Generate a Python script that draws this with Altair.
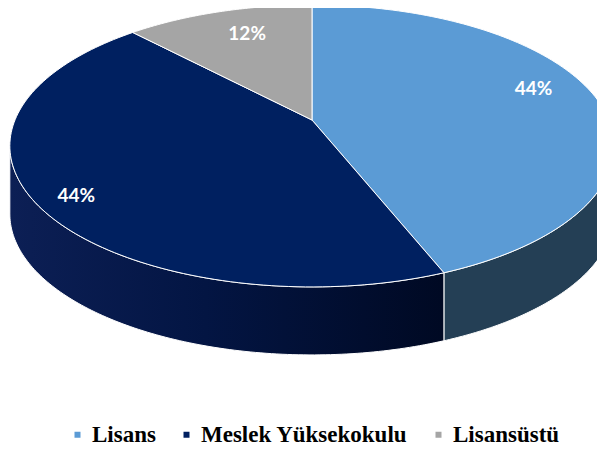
import math
import numpy as np
import pandas as pd
import altair as alt

# ---- data ----
categories = ["Lisans", "Meslek Yüksekokulu", "Lisansüstü"]
values = [44, 44, 12]
labels = ["44%", "44%", "12%"]

# ---- style ----
top_colors = ["#5B9BD5", "#002060", "#A5A5A5"]
side_colors = ["#243F55", "#0A1A48", "#6E6E6E"]
label_r = [0.78, 0.86, 0.66]
label_dy = [-12, 7, -11]

# 3D pie geometry (page pixel space)
CX, CY = 312.0, 120.0
A, B = 297.0, 136.2
P = 0.184
H = 68.0
W, HT = 589, 440


def proj(t, f=1.0):
    s, c = math.sin(t), math.cos(t)
    den = 1 + P * f * c
    return CX + f * A * s / den, CY - f * B * c / den


total = float(sum(values))
rows = []
lab_rows = []
start = 0.0
t_left = math.acos(-P)
t_right = 2 * math.pi - t_left
for k, (cat, v) in enumerate(zip(categories, values)):
    t0 = start
    t1 = start + 2 * math.pi * v / total
    start = t1
    # top face
    i = 0
    x, y = proj(0, 0)
    rows.append(dict(cat=cat, kind="top", i=i, x=x, y=y))
    for t in np.linspace(t0, t1, 120):
        i += 1
        x, y = proj(t)
        rows.append(dict(cat=cat, kind="top", i=i, x=x, y=y))
    # side face (front visible part)
    a0, a1 = max(t0, t_left), min(t1, t_right)
    if a1 > a0:
        ts = np.linspace(a0, a1, 120)
        j = 0
        for t in ts:
            x, y = proj(t)
            rows.append(dict(cat=cat, kind="side", i=j, x=x, y=y))
            j += 1
        for t in ts[::-1]:
            x, y = proj(t)
            rows.append(dict(cat=cat, kind="side", i=j, x=x, y=y + H))
            j += 1
    tm = (t0 + t1) / 2
    lx, ly = proj(tm, label_r[k])
    lab_rows.append(dict(cat=cat, label=labels[k], x=lx, y=ly + label_dy[k]))

df = pd.DataFrame(rows)
lab = pd.DataFrame(lab_rows)

xs = alt.Scale(domain=[8, 8 + W])
ys = alt.Scale(domain=[8, 8 + HT], reverse=True)
X = alt.X("x:Q", scale=xs, axis=None)
Y = alt.Y("y:Q", scale=ys, axis=None)

base = alt.Chart(df)

side_lisans = base.transform_filter(
    (alt.datum.kind == "side") & (alt.datum.cat == categories[0])
).mark_line(
    interpolate="linear-closed", fill=side_colors[0], stroke="white", strokeWidth=1, clip=True
).encode(x=X, y=Y, order=alt.Order("i:Q"))

side_meslek = base.transform_filter(
    (alt.datum.kind == "side") & (alt.datum.cat == categories[1])
).mark_line(
    interpolate="linear-closed",
    fill=alt.Gradient(
        gradient="linear",
        stops=[
            alt.GradientStop(color="#0C1F55", offset=0),
            alt.GradientStop(color="#031543", offset=0.45),
            alt.GradientStop(color="#000923", offset=1),
        ],
        x1=0, x2=1, y1=0, y2=0,
    ),
    stroke="white", strokeWidth=1, clip=True,
).encode(x=X, y=Y, order=alt.Order("i:Q"))

tops = base.transform_filter(alt.datum.kind == "top").mark_line(
    interpolate="linear-closed", stroke="white", strokeWidth=1, clip=True
).encode(
    x=X, y=Y, order=alt.Order("i:Q"),
    fill=alt.Fill(
        "cat:N",
        scale=alt.Scale(domain=categories, range=top_colors),
        sort=categories,
        legend=alt.Legend(
            title=None, orient="none", direction="horizontal",
            legendX=58, legendY=415,
            symbolType="square", symbolSize=36, symbolStrokeWidth=0,
            labelFont="Liberation Serif", labelFontSize=23, labelFontWeight="bold",
            labelColor="#000000", labelOffset=3, labelLimit=500,
            columnPadding=19, padding=0,
        ),
    ),
)

text = alt.Chart(lab).mark_text(
    font="Lato", fontWeight="bold", fontSize=19, color="white",
    align="center", baseline="middle",
).encode(x=alt.X("x:Q", scale=xs, axis=None), y=alt.Y("y:Q", scale=ys, axis=None), text="label:N")

chart = alt.layer(side_lisans, side_meslek, tops, text).properties(
    width=W, height=HT, autosize=alt.AutoSizeParams(type="none"), padding=0
).configure_view(stroke=None)

chart.save("out.html", embed_options={"renderer": "svg", "actions": False})
